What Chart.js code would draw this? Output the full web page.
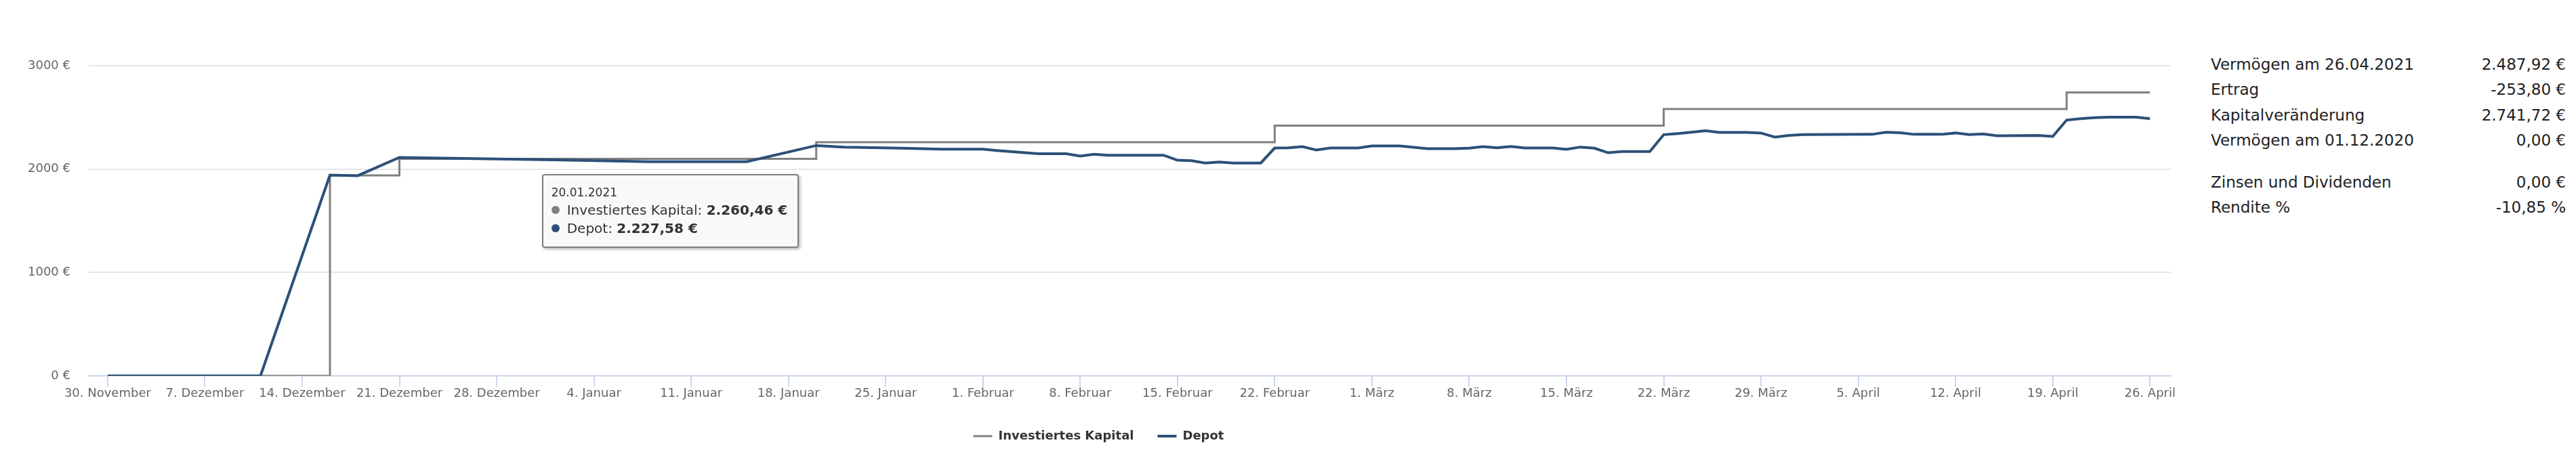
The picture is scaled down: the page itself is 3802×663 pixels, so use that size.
<!DOCTYPE html>
<html lang="de">
<head>
<meta charset="utf-8">
<title>Depotentwicklung</title>
<script src="https://cdn.jsdelivr.net/npm/chart.js@4.4.1/dist/chart.umd.min.js"></script>
<style>
  html, body { margin: 0; padding: 0; background: #fff; }
  body { width: 3802px; height: 663px; position: relative; overflow: hidden; font-family: "DejaVu Sans", sans-serif; }
  #chartBox { position: absolute; left: 39px; top: 0; width: 3205px; height: 663px; }
  #summary { position: absolute; left: 3263px; top: 76px; width: 524px; border-collapse: collapse; font-size: 23px; color: #222; }
  #summary td { padding: 0; height: 37.5px; white-space: nowrap; vertical-align: middle; }
  #summary td.val { text-align: right; }
  #summary tr.gap td { height: 24px; }
  #tip { position: absolute; display: none; background: rgba(249, 249, 249, 0.96); border: 2px solid #7f7f7f; border-radius: 4px;
         box-shadow: 2px 2px 4px rgba(0, 0, 0, 0.3); padding: 12px 15px 13px 12px; color: #333; white-space: nowrap; pointer-events: none; }
  #tip .head { font-size: 17px; line-height: 26px; }
  #tip .row { font-size: 20px; line-height: 27px; }
  #tip .dot { display: inline-block; width: 12px; height: 12px; border-radius: 50%; margin-right: 11px; position: relative; top: -1px; }
</style>
</head>
<body>
<div id="chartBox"><canvas id="chartDepot" width="3205" height="663"></canvas></div>
<div id="tip"></div>
<table id="summary"></table>

<script>
// Werte aus der Depotübersicht (Datum TT.MM.JJJJ)
const MONTHS = ['Januar', 'Februar', 'März', 'April', 'Mai', 'Juni', 'Juli', 'August', 'September', 'Oktober', 'November', 'Dezember'];

const xTickDates = ['30.11.2020', '07.12.2020', '14.12.2020', '21.12.2020', '28.12.2020', '04.01.2021', '11.01.2021', '18.01.2021',
    '25.01.2021', '01.02.2021', '08.02.2021', '15.02.2021', '22.02.2021', '01.03.2021', '08.03.2021', '15.03.2021',
    '22.03.2021', '29.03.2021', '05.04.2021', '12.04.2021', '19.04.2021', '26.04.2021'];
const yTicks = [0, 1000, 2000, 3000];

const capitalDates = ['30.11.2020', '16.12.2020', '21.12.2020', '20.01.2021', '22.02.2021', '22.03.2021', '20.04.2021', '26.04.2021'];
const capitalValues = [0, 1939.62, 2100.04, 2260.46, 2420.88, 2581.30, 2741.72, 2741.72];

const depotDates = ['30.11.2020', '11.12.2020', '16.12.2020', '18.12.2020', '21.12.2020', '01.01.2021', '08.01.2021', '15.01.2021',
    '20.01.2021', '22.01.2021', '26.01.2021', '29.01.2021', '01.02.2021', '02.02.2021', '05.02.2021', '07.02.2021',
    '08.02.2021', '09.02.2021', '10.02.2021', '14.02.2021', '15.02.2021', '16.02.2021', '17.02.2021', '18.02.2021',
    '19.02.2021', '21.02.2021', '22.02.2021', '23.02.2021', '24.02.2021', '25.02.2021', '26.02.2021', '28.02.2021',
    '01.03.2021', '03.03.2021', '04.03.2021', '05.03.2021', '07.03.2021', '08.03.2021', '09.03.2021', '10.03.2021',
    '11.03.2021', '12.03.2021', '14.03.2021', '15.03.2021', '16.03.2021', '17.03.2021', '18.03.2021', '19.03.2021',
    '21.03.2021', '22.03.2021', '23.03.2021', '24.03.2021', '25.03.2021', '26.03.2021', '28.03.2021', '29.03.2021',
    '30.03.2021', '31.03.2021', '01.04.2021', '06.04.2021', '07.04.2021', '08.04.2021', '09.04.2021', '11.04.2021',
    '12.04.2021', '13.04.2021', '14.04.2021', '15.04.2021', '18.04.2021', '19.04.2021', '20.04.2021', '21.04.2021',
    '22.04.2021', '23.04.2021', '25.04.2021', '26.04.2021'];
const depotValues = [0, 0, 1942, 1936, 2113, 2090, 2072, 2072,
    2227.58, 2213, 2202, 2193, 2193, 2180, 2149, 2149,
    2125, 2143, 2134, 2134, 2086, 2081, 2059, 2068,
    2059, 2059, 2204, 2206, 2217, 2184, 2204, 2204,
    2224, 2224, 2211, 2197, 2197, 2202, 2217, 2206,
    2219, 2204, 2204, 2191, 2213, 2202, 2158, 2169,
    2169, 2333, 2344, 2357, 2371, 2355, 2355, 2349,
    2309, 2325, 2333, 2336, 2357, 2351, 2336, 2336,
    2349, 2333, 2340, 2322, 2325, 2316, 2474, 2487,
    2498, 2502, 2502, 2487.92];

const tooltipDate = '20.01.2021';

const summaryLabels = ['Vermögen am 26.04.2021', 'Ertrag', 'Kapitalveränderung', 'Vermögen am 01.12.2020', '', 'Zinsen und Dividenden', 'Rendite %'];
const summaryValues = ['2.487,92 €', '-253,80 €', '2.741,72 €', '0,00 €', '', '0,00 €', '-10,85 %'];

const START = Date.UTC(2020, 10, 30);
const DAY = 86400000;

const COLORS = {
    capital: '#808080',
    depot: '#2c5078',
    grid: '#e6e6e6',
    axis: '#ccd6eb',
    label: '#666666',
    legend: '#333333',
};

function dayOf(str) {
    const [d, m, y] = str.split('.').map(Number);
    return (Date.UTC(y, m - 1, d) - START) / DAY;
}

function dateOf(day) {
    return new Date(START + Math.round(day) * DAY);
}

function formatTick(day) {
    const d = dateOf(day);
    return `${d.getUTCDate()}. ${MONTHS[d.getUTCMonth()]}`;
}

function formatDate(day) {
    const d = dateOf(day);
    const pad = (n) => String(n).padStart(2, '0');
    return `${pad(d.getUTCDate())}.${pad(d.getUTCMonth() + 1)}.${d.getUTCFullYear()}`;
}

function formatEuro(v) {
    const [int, dec] = v.toFixed(2).split('.');
    return int.replace(/\B(?=(\d{3})+(?!\d))/g, '.') + ',' + dec + ' €';
}

function toPoints(dates, values) {
    return dates.map((d, i) => ({ x: dayOf(d), y: values[i] }));
}

// Tooltip wie im Original als HTML-Box links unterhalb des Punktes
function externalTooltip({ chart, tooltip }) {
    const el = document.getElementById('tip');
    if (tooltip.opacity === 0 || !tooltip.dataPoints) {
        el.style.display = 'none';
        return;
    }
    const pts = tooltip.dataPoints.slice().sort((a, b) => a.datasetIndex - b.datasetIndex);
    let html = `<div class="head">${formatDate(pts[0].parsed.x)}</div>`;
    pts.forEach((p) => {
        html += `<div class="row"><span class="dot" style="background:${p.dataset.borderColor}"></span>`
            + `${p.dataset.label}: <b>${formatEuro(p.parsed.y)}</b></div>`;
    });
    el.innerHTML = html;
    el.style.display = 'block';
    const box = chart.canvas.parentNode;
    el.style.left = (box.offsetLeft + tooltip.caretX - 25 - el.offsetWidth) + 'px';
    el.style.top = (box.offsetTop + tooltip.caretY + 45) + 'px';
}

Chart.defaults.font.family = '"DejaVu Sans", sans-serif';

const chart = new Chart(document.getElementById('chartDepot'), {
    type: 'line',
    data: {
        datasets: [{
            label: 'Investiertes Kapital',
            data: toPoints(capitalDates, capitalValues),
            borderColor: COLORS.capital,
            backgroundColor: COLORS.capital,
            borderWidth: 3,
            stepped: 'before',
            pointRadius: 0,
            pointHoverRadius: 0,
            order: 1,
        }, {
            label: 'Depot',
            data: toPoints(depotDates, depotValues),
            borderColor: COLORS.depot,
            backgroundColor: COLORS.depot,
            borderWidth: 4,
            tension: 0,
            pointRadius: 0,
            pointHoverRadius: 0,
            order: 0,
        }],
    },
    options: {
        responsive: false,
        animation: false,
        events: [],
        layout: { padding: { left: 0, top: 97, right: 40, bottom: 0 } },
        scales: {
            x: {
                type: 'linear',
                min: -1.36,
                max: 148.5,
                afterBuildTicks: (scale) => { scale.ticks = xTickDates.map((d) => ({ value: dayOf(d) })); },
                afterFit: (scale) => { scale.height = 45; },
                ticks: {
                    autoSkip: false,
                    maxRotation: 0,
                    padding: 0,
                    color: COLORS.label,
                    font: { size: 18 },
                    callback: (value) => formatTick(value),
                },
                grid: { drawOnChartArea: false, drawTicks: true, tickLength: 16, color: COLORS.axis, lineWidth: 2 },
                border: { display: true, color: COLORS.axis, width: 2 },
            },
            y: {
                min: 0,
                max: 3000,
                afterBuildTicks: (scale) => { scale.ticks = yTicks.map((v) => ({ value: v })); },
                afterFit: (scale) => { scale.width = 92; },
                ticks: {
                    padding: 27,
                    color: COLORS.label,
                    font: { size: 18 },
                    callback: (value) => `${value} €`,
                },
                grid: { color: COLORS.grid, lineWidth: 2, drawTicks: false },
                border: { display: false },
            },
        },
        plugins: {
            legend: {
                position: 'bottom',
                maxHeight: 65,
                labels: {
                    usePointStyle: true,
                    pointStyle: 'line',
                    pointStyleWidth: 28,
                    padding: 35,
                    color: COLORS.legend,
                    font: { size: 18, weight: 'bold' },
                    sort: (a, b) => a.datasetIndex - b.datasetIndex,
                },
            },
            tooltip: {
                enabled: false,
                position: 'average',
                external: externalTooltip,
            },
        },
    },
});

// Tooltip für den 20.01.2021 aktivieren
const tipDay = dayOf(tooltipDate);
const active = chart.data.datasets.map((ds, i) => ({ datasetIndex: i, index: ds.data.findIndex((p) => p.x === tipDay) }));
chart.tooltip.setActiveElements(active, { x: chart.scales.x.getPixelForValue(tipDay), y: chart.chartArea.top });
chart.update();

// Übersicht rechts
const summary = document.getElementById('summary');
summaryLabels.forEach((label, i) => {
    const tr = document.createElement('tr');
    if (!label) tr.className = 'gap';
    tr.innerHTML = `<td>${label}</td><td class="val">${summaryValues[i]}</td>`;
    summary.appendChild(tr);
});
</script>
</body>
</html>
